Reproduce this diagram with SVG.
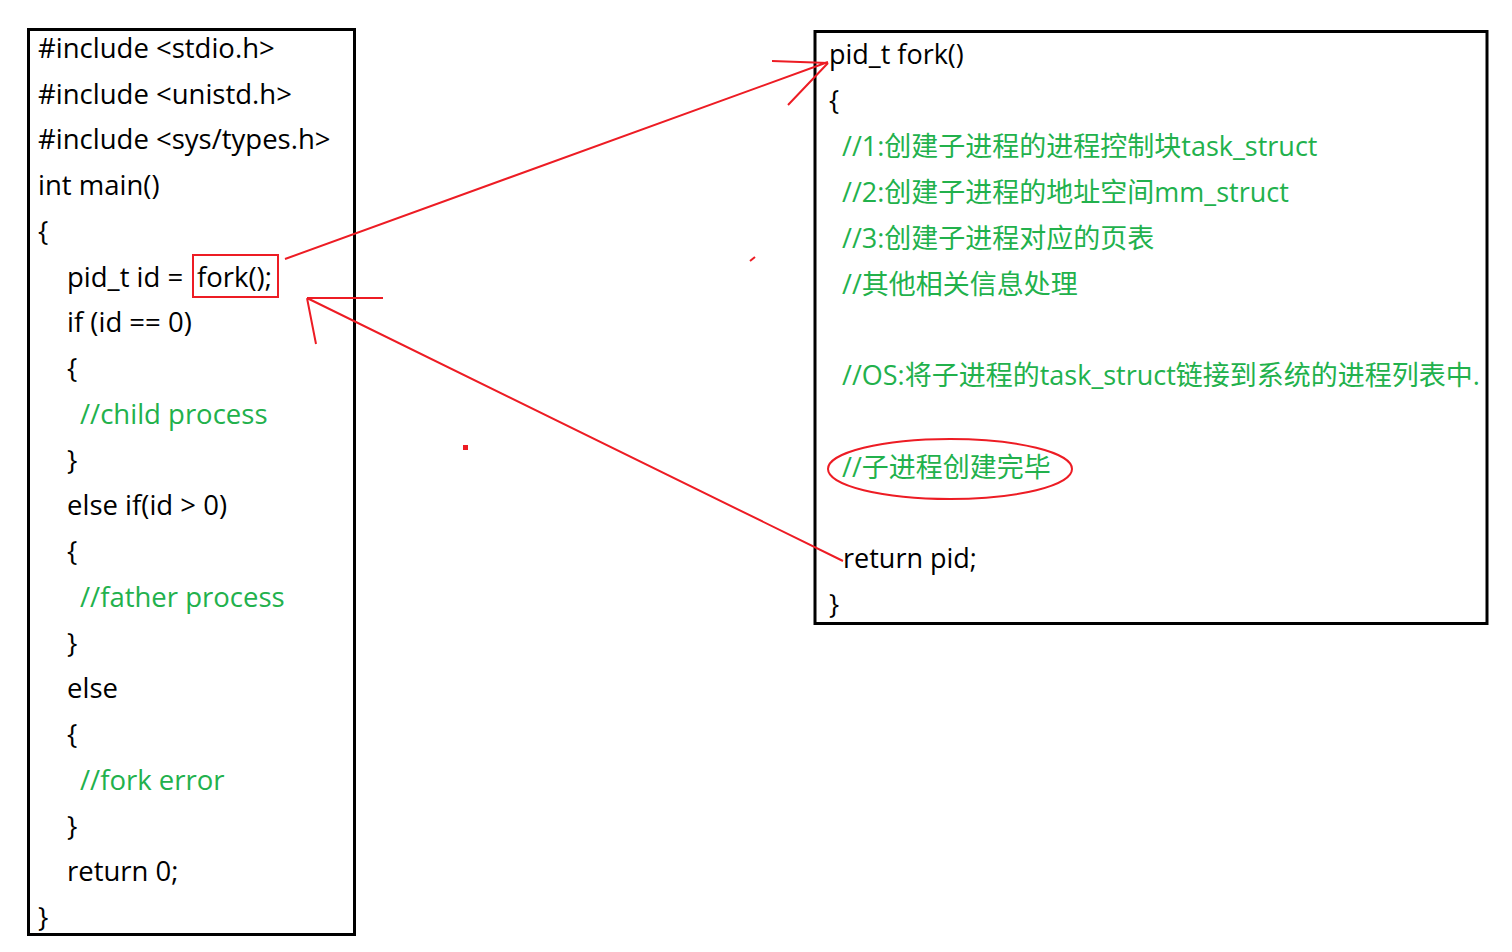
<svg xmlns="http://www.w3.org/2000/svg" width="1512" height="952" viewBox="0 0 1512 952">
<style>
text{font-family:"Open Sans","Noto Sans CJK SC",sans-serif;font-size:27.5px;fill:#000}
#fork-impl text{font-size:27px}
.c{fill:#22b14c}
.box{fill:#fff;stroke:#000;stroke-width:3}
.red{fill:none;stroke:#ed1c24;stroke-width:2}
</style>
<rect width="1512" height="952" fill="#fff"/>
<g id="main-code">
<rect class="box" x="28.5" y="29.5" width="326" height="905"/>
<text x="38" y="58">#include &lt;stdio.h&gt;</text>
<text x="38" y="104">#include &lt;unistd.h&gt;</text>
<text x="38" y="149">#include &lt;sys/types.h&gt;</text>
<text x="38" y="195">int main()</text>
<text x="38" y="241">{</text>
<text x="67" y="287">pid_t id =</text>
<text x="197" y="287">fork();</text>
<text x="67" y="332">if (id == 0)</text>
<text x="67" y="378">{</text>
<text class="c" x="80" y="424">//child process</text>
<text x="67" y="470">}</text>
<text x="67" y="515">else if(id &gt; 0)</text>
<text x="67" y="561">{</text>
<text class="c" x="80" y="607">//father process</text>
<text x="67" y="653">}</text>
<text x="67" y="698">else</text>
<text x="67" y="744">{</text>
<text class="c" x="80" y="790">//fork error</text>
<text x="67" y="836">}</text>
<text x="67" y="881">return 0;</text>
<text x="38" y="927">}</text>
<rect class="red" x="193" y="255" width="85" height="42"/>
</g>
<g id="fork-impl">
<rect class="box" x="815" y="31.5" width="672" height="592"/>
<text x="829" y="64">pid_t fork()</text>
<text x="829" y="110">{</text>
<text class="c" x="842" y="156">//1:创建子进程的进程控制块task_struct</text>
<text class="c" x="842" y="202">//2:创建子进程的地址空间mm_struct</text>
<text class="c" x="842" y="248">//3:创建子进程对应的页表</text>
<text class="c" x="842" y="294">//其他相关信息处理</text>
<text class="c" x="842" y="385">//OS:将子进程的task_struct链接到系统的进程列表中.</text>
<text class="c" x="842" y="477">//子进程创建完毕</text>
<text x="843" y="568">return pid;</text>
<text x="829" y="614">}</text>
<ellipse class="red" cx="950" cy="469" rx="122" ry="30"/>
</g>
<g id="connectors" class="red">
<path class="red" d="M285 259 L828 62 M772 61 L828 63 M788 105 L828 63"/>
<path class="red" d="M843 561 L307 298 M307 298 L383 298 M307 298 L316 344"/>
<path class="red" d="M750 261 L755 257"/>
<rect x="464" y="446" width="3" height="3" fill="#ed1c24"/>
</g>
</svg>
